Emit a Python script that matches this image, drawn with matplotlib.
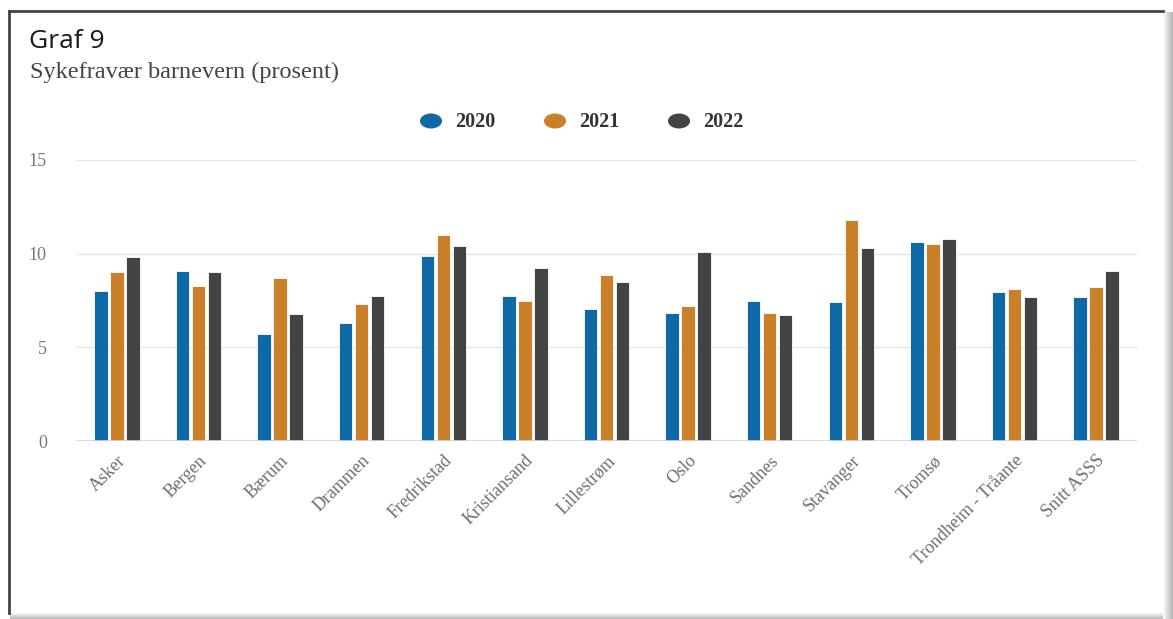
import matplotlib
matplotlib.use("Agg")
import matplotlib.pyplot as plt
import numpy as np
from matplotlib.patches import Rectangle, Ellipse

categories = ["Asker", "Bergen", "Bærum", "Drammen", "Fredrikstad", "Kristiansand",
              "Lillestrøm", "Oslo", "Sandnes", "Stavanger", "Tromsø",
              "Trondheim - Tråante", "Snitt ASSS"]
years = ["2020", "2021", "2022"]
v2020 = [8.0, 9.05, 5.7, 6.3, 9.9, 7.75, 7.05, 6.85, 7.45, 7.4, 10.6, 7.95, 7.7]
v2021 = [9.0, 8.3, 8.7, 7.3, 11.0, 7.5, 8.85, 7.2, 6.85, 11.8, 10.5, 8.1, 8.2]
v2022 = [9.8, 9.0, 6.8, 7.75, 10.4, 9.25, 8.5, 10.1, 6.75, 10.3, 10.8, 7.7, 9.1]
yticks = [0, 5, 10, 15]

colors = ["#0e69a6", "#c98028", "#434343"]
W, H = 1173, 619
fig = plt.figure(figsize=(W / 100, H / 100), dpi=100)
fig.patch.set_facecolor("white")

# frame and shadow
for i in range(10):
    a = 0.02 + 0.03 * i
    fig.patches.append(Rectangle(((1163 + i) / W, 0), 1 / W, (H - 12) / H,
                                 transform=fig.transFigure, color=str(1 - a), lw=0, zorder=0))
for i in range(6):
    a = 0.04 + 0.045 * i
    fig.patches.append(Rectangle((10 / W, (5 - i) / H), (1163 - 10) / W, 1 / H,
                                 transform=fig.transFigure, color=str(1 - a), lw=0, zorder=0))
fig.add_artist(plt.Line2D([9 / W, 1163 / W], [1 - 11 / H, 1 - 11 / H], transform=fig.transFigure,
                          color="#444444", lw=2))
fig.add_artist(plt.Line2D([9 / W, 9 / W], [1 - 11 / H, 6 / H], transform=fig.transFigure,
                          color="#444444", lw=2))

fig.text(29 / W, 1 - 41 / H, "Graf 9", fontsize=19, family="Open Sans", color="#1a1a1a",
         va="center", ha="left")
fig.text(30 / W, 1 - 72 / H, "Sykefravær barnevern (prosent)", fontsize=17.5,
         family="Liberation Serif", color="#444444", va="center", ha="left")

# legend
lx = [431, 555, 679]
for x, c, y in zip(lx, colors, years):
    fig.patches.append(Ellipse((x / W, 1 - 121 / H), 22 / W, 15 / H, transform=fig.transFigure,
                               color=c, lw=0))
    fig.text((x + 24) / W, 1 - 122 / H, y, fontsize=14.5, fontweight="bold",
             family="Liberation Serif", color="#333333", va="center", ha="left")

ax = fig.add_axes([76 / W, (H - 441) / H, (1137 - 76) / W, (441 - 160) / H])
x = np.arange(len(categories))
bw = 0.165
step = 0.196
for i, (vals, c) in enumerate(zip([v2020, v2021, v2022], colors)):
    ax.bar(x + (i - 1) * step, vals, width=bw, color=c, edgecolor="white", linewidth=0.6, zorder=3)

ax.set_xlim(-0.5, len(categories) - 0.5)
ax.set_ylim(0, 15)
ax.set_yticks(yticks)
ax.set_yticklabels([str(t) for t in yticks], family="Liberation Serif", fontsize=13, color="#777777")
ax.tick_params(axis="y", length=0, pad=21)
for t in yticks[1:]:
    ax.axhline(t, color="#e6e6e6", lw=1, zorder=1)
ax.axhline(0, color="#ccd6eb", lw=1.2, zorder=4)
for s in ax.spines.values():
    s.set_visible(False)
ax.set_xticks(x)
ax.set_xticklabels(categories, rotation=45, ha="right", rotation_mode="anchor",
                   family="Liberation Serif", fontsize=13, color="#707070")
ax.tick_params(axis="x", length=0, pad=8)

fig.savefig("out.png", dpi=100, facecolor="white")
